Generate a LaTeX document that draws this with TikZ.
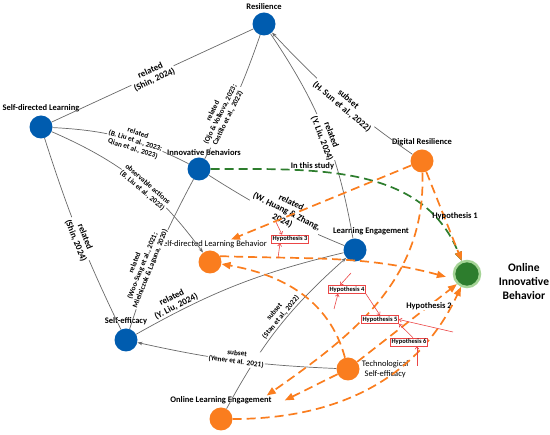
\documentclass[tikz,border=0pt]{standalone}
\usepackage{fontspec}
\setmainfont{Carlito}
\usetikzlibrary{arrows.meta,positioning}
\definecolor{nodeblue}{RGB}{0,92,175}
\definecolor{hyporange}{RGB}{250,125,30}
\definecolor{oibgreen}{RGB}{45,125,45}
\definecolor{ringgreen}{RGB}{165,212,150}
\definecolor{linkgray}{RGB}{105,105,105}
\definecolor{hypred}{RGB}{235,70,70}
\tikzset{
	construct/.style={circle, minimum size=23pt, inner sep=0pt}, % every concept dot
	prior/.style={construct, fill=nodeblue}, % constructs from the literature
	studied/.style={construct, fill=hyporange}, % constructs of this study
	outcome/.style={construct, fill=oibgreen, draw=ringgreen, line width=2.5pt, minimum size=26pt},
	conceptname/.style={font=\fontsize{8.5}{10}\selectfont\bfseries, inner sep=1pt},
	plainname/.style={font=\fontsize{8.5}{10}\selectfont, inner sep=1pt},
	link/.style={draw=linkgray, line width=0.7pt, >={Stealth[length=5pt,width=3.5pt]}},
	cite/.style={font=\fontsize{9}{10}\selectfont\bfseries, align=center, fill=white, inner sep=1pt, sloped},
	smallcite/.style={cite, font=\fontsize{7.3}{8.3}\selectfont\bfseries},
	hyp/.style={draw=hyporange, line width=1.7pt, dash pattern=on 9pt off 5pt, -{Triangle[length=9pt,width=7pt]}},
	studypath/.style={draw=oibgreen, line width=1.7pt, dash pattern=on 9pt off 5pt, -{Triangle[length=9pt,width=7pt]}},
	hbox/.style={draw=hypred, line width=0.6pt, fill=white, font=\fontsize{6.5}{7}\selectfont\bfseries, inner sep=1.2pt},
	pointer/.style={draw=hypred, line width=0.6pt, -{Straight Barb[length=2.5pt,width=4pt]}},
}
\begin{document}
\begin{tikzpicture}[x=1pt,y=1pt]
	\useasboundingbox (0,0) rectangle (550,-435);
	% concepts
	\node[prior] (res) at (264,-24) {};
	\node[prior] (sdl) at (41,-127) {};
	\node[prior] (ib) at (199,-169) {};
	\node[prior] (le) at (355,-250) {};
	\node[prior] (se) at (126,-340) {};
	\node[studied] (dr) at (422,-161) {};
	\node[studied] (sdlb) at (210,-262) {};
	\node[studied] (tse) at (348,-369) {};
	\node[studied] (ole) at (221,-419) {};
	\node[outcome] (oib) at (467,-274) {};
	% their names
	\node[conceptname, above=2pt of res] (resl) {Resilience};
	\node[conceptname, above=2pt of sdl] (sdll) {Self-directed Learning};
	\node[conceptname, above=1pt of ib, xshift=5pt] (ibl) {Innovative Behaviors};
	\node[conceptname, above=2pt of le, xshift=16pt] (lel) {Learning Engagement};
	\node[conceptname, above=2pt of se] (sel) {Self-efficacy};
	\node[conceptname, above=2pt of dr] (drl) {Digital Resilience};
	\node[plainname, above=1pt of sdlb, xshift=3pt, fill=white] (sdlbl) {Self-directed Learning Behavior};
	\node[plainname, right=1pt of tse, align=center] (tsel) {Technological\\Self-efficacy};
	\node[conceptname, above=2pt of ole] (olel) {Online Learning Engagement};
	\node[right=14pt of oib, yshift=-8pt, align=center, font=\fontsize{11.5}{14}\selectfont\bfseries] (oibl) {Online\\Innovative\\Behavior};

	% links found in the literature
	\draw[link] (sdl) -- node[cite, pos=0.5] {related\\(Shin, 2024)} (res);
	\draw[link] (res) to[bend left=12] node[cite, pos=0.53] {related\\(Y. Liu, 2024)} (le);
	\draw[link, ->] (dr) to[bend left=6] node[cite, pos=0.45] {subset\\(H. Sun et al., 2022)} (res);
	\draw[link] (ib) to[bend right=5] node[smallcite, pos=0.33, above=-6pt] {related\\(Ojo \& Volkova, 2023;\\Castillo et al., 2022)} (res);
	\draw[link] (sdl) to[bend left=12] node[smallcite, pos=0.6] {related\\(B. Liu et al., 2023;\\Qian et al., 2023)} (ib);
	\draw[link, ->] (sdl) to[bend left=15] node[smallcite, pos=0.56] {observable actions\\(B. Liu et al., 2023)} (sdlb);
	\draw[link] (ib) to[bend right=5] node[smallcite, pos=0.62, above=-4pt] {related\\(Woo-Sung et al., 2021;\\Mielniczuk \& Laguna, 2020)} (se);
	\draw[link] (sdl) to[bend right=4] node[cite, pos=0.52] {related\\(Shin, 2024)} (se);
	\draw[link] (ib) to[bend right=5] node[cite, pos=0.57, above=-8pt] {related\\(W. Huang \& Zhang,\\2024)} (le);
	\draw[link] (se) to[bend left=8] node[cite, above, fill=none, pos=0.2] {related\\(Y. Liu, 2024)} (le);
	\draw[link, ->] (ole) to[bend left=10] node[smallcite, above, fill=none, pos=0.55] {subset\\(Stan et al., 2022)} (le);
	\draw[link, ->] (tse) to[bend left=5] node[smallcite, yshift=3pt] {subset\\(Yener et al. 2021)} (se);

	% hypotheses
	\draw[studypath] (ib) to[out=0, in=112] node[pos=0.33, above, conceptname] {In this study} (oib);
	\draw[hyp] (dr) -- ([xshift=18pt]sdlbl.north);
	\draw[hyp] (dr) -- (oib);
	\draw[hyp] (dr) to[out=-88, in=35] ([xshift=-6pt]olel.north east);
	\draw[hyp, shorten >=8pt] (sdlb.30) to[out=-2, in=165] (oib.200);
	\draw[hyp] (tse) to[out=105, in=-10] (sdlb);
	\draw[hyp] (tse) -- node[conceptname, pos=0.72, fill=white] {Hypothesis 2} (oib.225);
	\draw[hyp] (tse) -- ([xshift=12pt]olel.east);
	\draw[hyp] (ole) to[out=0, in=-115] (oib);
	\node[conceptname] (hyp1) at (455,-216) {Hypothesis 1};

	% hypothesis boxes
	\node[hbox] (h3) at (290,-239) {Hypothesis 3};
	\node[hbox] (h4) at (347,-289.5) {Hypothesis 4};
	\node[hbox] (h5) at (380,-319.5) {Hypothesis 5};
	\node[hbox] (h6) at (409,-342) {Hypothesis 6};
	\coordinate (p3a) at (276,-222);
	\coordinate (p3b) at (278,-258);
	\coordinate (p4a) at (351,-273);
	\coordinate (p4b) at (334,-309);
	\coordinate (p5) at (453,-332);
	\coordinate (p6) at (417,-366);
	\draw[pointer] (p3a) -- ([xshift=-8pt]h3.north);
	\draw[pointer] (p3b) -- ([xshift=-10pt]h3.south);
	\draw[pointer] (p4a) -- ([xshift=-7pt]h4.north);
	\draw[pointer] (p4b) -- ([xshift=-9pt]h4.south);
	\draw[pointer] (h4.south east) -- (h5.north);
	\draw[pointer] (p5) -- (h5.east);
	\draw[pointer, {Straight Barb[length=2.5pt,width=4pt]}-] (h5.south east) -- ([xshift=4pt]h6.north);
	\draw[pointer] (p6) -- ([xshift=8pt]h6.south);
\end{tikzpicture}
\end{document}
